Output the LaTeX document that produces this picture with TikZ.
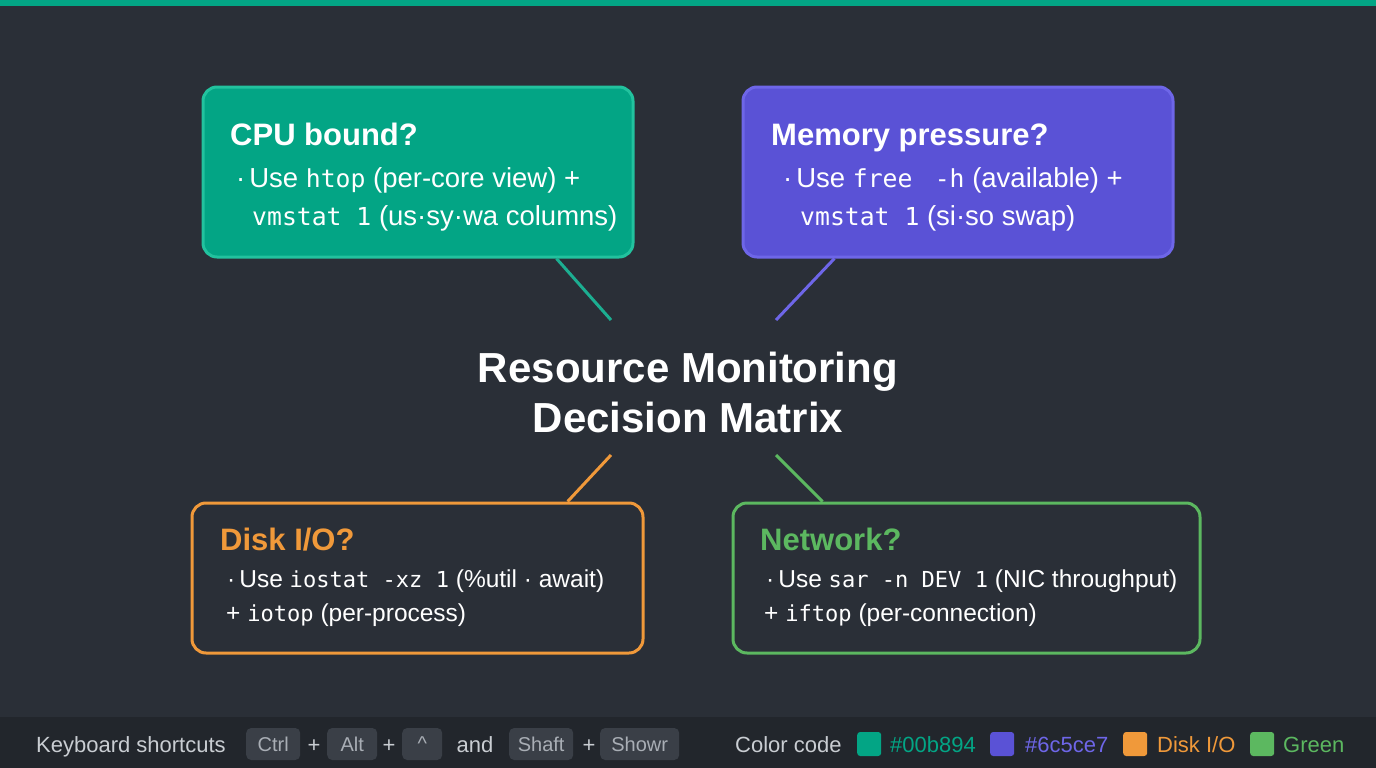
\documentclass[tikz,border=0pt]{standalone}
\usepackage{fontspec}
\setmainfont{Liberation Sans}
\setmonofont[Scale=0.9]{DejaVu Sans Mono}
\usetikzlibrary{positioning}

\definecolor{bgmain}{HTML}{2A2F37}
\definecolor{bgfoot}{HTML}{22262C}
\definecolor{cputeal}{HTML}{03A585}
\definecolor{cpuedge}{HTML}{22C29E}
\definecolor{memviolet}{HTML}{5A52D6}
\definecolor{memedge}{HTML}{6E66E8}
\definecolor{diskorange}{HTML}{F0993A}
\definecolor{netgreen}{HTML}{5CB860}
\definecolor{keygray}{HTML}{3A3F47}
\definecolor{keytext}{HTML}{A9AEB5}
\definecolor{foottext}{HTML}{C9CDD2}

\tikzset{
  card/.style={rounded corners=14pt, line width=3pt, inner sep=0pt},
  head/.style={anchor=base west, inner sep=0pt, font=\fontsize{31}{34}\selectfont\bfseries},
  body/.style={anchor=base west, inner sep=0pt, text=white, font=\fontsize{27.5}{30}\selectfont},
  lowbody/.style={body, font=\fontsize{24.5}{28}\selectfont},
  link/.style={line width=3pt},
  foot/.style={anchor=base west, inner sep=0pt, text=foottext, font=\fontsize{22}{24}\selectfont},
  keycap/.style={anchor=west, fill=keygray, rounded corners=5pt, minimum height=32pt, inner sep=0pt, text=keytext, font=\fontsize{20}{22}\selectfont},
  swatch/.style={anchor=west, rounded corners=3pt, minimum width=24pt, minimum height=24pt, inner sep=0pt},
}

\begin{document}
\begin{tikzpicture}[x=1pt, y=-1pt]
				% Background and bars
				\fill[bgmain] (0,0) rectangle (1376,768);
				\useasboundingbox (0,0) rectangle (1376,768);
				\fill[cputeal] (0,0) rectangle (1376,6);
				\fill[bgfoot] (0,717) rectangle (1376,768);
				
				% Four cards
				\node[card, draw=cpuedge, fill=cputeal, minimum width=430pt, minimum height=170pt] (cpu) at (418,172) {};
				\node[card, draw=memedge, fill=memviolet, minimum width=430pt, minimum height=170pt] (mem) at (958,172) {};
				\node[card, draw=diskorange, fill=bgmain, minimum width=451pt, minimum height=150pt] (disk) at (417.5,578) {};
				\node[card, draw=netgreen, fill=bgmain, minimum width=467pt, minimum height=150pt] (net) at (966.5,578) {};
				
				% Card texts
				\node[head, text=white] (cpu-head) at (230,145) {CPU bound?};
				\node[body] (cpu-l1) at (236,187) {·\hspace{4pt}Use \texttt{htop} (per-core view) +};
				\node[body] (cpu-l2) at (252,225) {\texttt{vmstat 1} (us·sy·wa columns)};
				
				\node[head, text=white] (mem-head) at (771,145) {Memory pressure?};
				\node[body] (mem-l1) at (783,187) {·\hspace{4pt}Use \texttt{free\hspace{0.3em} -h} (available) +};
				\node[body] (mem-l2) at (800,225) {\texttt{vmstat 1} (si·so swap)};
				
				\node[head, text=diskorange] (disk-head) at (220,550) {Disk I/O?};
				\node[lowbody] (disk-l1) at (227,587) {·\hspace{4pt}Use \texttt{iostat -xz 1} (\%util · await)};
				\node[lowbody] (disk-l2) at (226,621) {+ \texttt{iotop} (per-process)};
				
				\node[head, text=netgreen] (net-head) at (760,550) {Network?};
				\node[lowbody] (net-l1) at (766,587) {·\hspace{4pt}Use \texttt{sar -n DEV 1} (NIC throughput)};
				\node[lowbody] (net-l2) at (764,621) {+ \texttt{iftop} (per-connection)};
				
				% Centre title
				\node[inner sep=0pt, anchor=base, text=white, font=\fontsize{42}{50}\selectfont\bfseries] (title) at (688,382) {Resource Monitoring};
				\node[inner sep=0pt, anchor=base, text=white, font=\fontsize{42}{50}\selectfont\bfseries] (title2) at (688,432) {Decision Matrix};
				\coordinate (t-nw) at (611,320);
				\coordinate (t-ne) at (776,320);
				\coordinate (t-sw) at (611,455);
				\coordinate (t-se) at (776,455);
				
				% Connectors
				\draw[link, cputeal!90!white] (cpu.-32.8) -- (t-nw);
				\draw[link, memedge] (mem.-145.1) -- (t-ne);
				\draw[link, diskorange] (disk.27.3) -- (t-sw);
				\draw[link, netgreen] (net.152.2) -- (t-se);
				
				% Footer: shortcuts
				\node[foot] (kbd) at (36,752) {Keyboard shortcuts};
				\node[keycap, minimum width=54pt] (k-ctrl) at (246,744) {Ctrl};
				\node[foot, anchor=base] (p1) at (314,752) {+};
				\node[keycap, minimum width=50pt] (k-alt) at (327,744) {Alt};
				\node[foot, anchor=base] (p2) at (389,752) {+};
				\node[keycap, minimum width=40pt] (k-up) at (402,744) {\^{}};
				\node[foot, anchor=base] (and) at (475,752) {and};
				\node[keycap, minimum width=64pt] (k-shaft) at (509,744) {Shaft};
				\node[foot, anchor=base] (p3) at (589,752) {+};
				\node[keycap, minimum width=79pt] (k-showr) at (600,744) {Showr};
				
				% Footer: colour code
				\node[foot] (ccode) at (735,752) {Color code};
				\node[swatch, fill=cputeal] (sw-teal) at (857,744) {};
				\node[foot, text=cputeal] (lab-teal) at (890,752) {\#00b894};
				\node[swatch, fill=memviolet] (sw-violet) at (990,744) {};
				\node[foot, text=memedge] (lab-violet) at (1025,752) {\#6c5ce7};
				\node[swatch, fill=diskorange] (sw-orange) at (1123,744) {};
				\node[foot, text=diskorange] (lab-orange) at (1157,752) {Disk I/O};
				\node[swatch, fill=netgreen] (sw-green) at (1250,744) {};
				\node[foot, text=netgreen] (lab-green) at (1283,752) {Green};
			\end{tikzpicture}
\end{document}
